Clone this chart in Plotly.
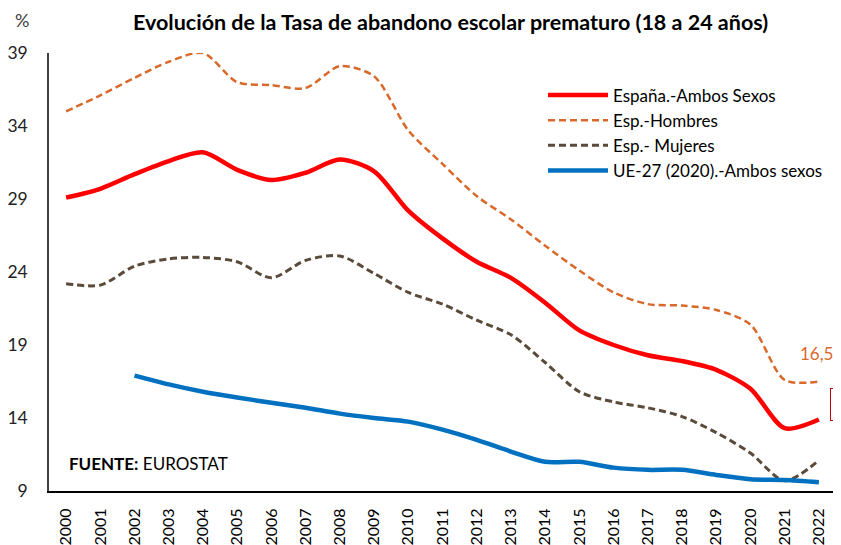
import plotly.graph_objects as go

years = list(range(2000, 2023))
espana = [29.1, 29.7, 30.7, 31.6, 32.2, 31.0, 30.3, 30.8, 31.7, 30.9, 28.2, 26.3,
          24.7, 23.6, 21.9, 20.0, 19.0, 18.3, 17.9, 17.3, 16.0, 13.3, 13.9]
hombres = [35.0, 36.1, 37.3, 38.4, 39.0, 37.0, 36.8, 36.6, 38.1, 37.4, 33.7, 31.4,
           29.2, 27.6, 25.8, 24.1, 22.6, 21.8, 21.7, 21.4, 20.4, 16.6, 16.5]
mujeres = [23.2, 23.1, 24.4, 24.9, 25.0, 24.7, 23.6, 24.8, 25.1, 23.9, 22.6, 21.8,
           20.7, 19.7, 17.8, 15.8, 15.1, 14.7, 14.1, 13.0, 11.6, 9.7, 11.1]
ue_years = list(range(2002, 2023))
ue27 = [16.9, 16.3, 15.8, 15.4, 15.05, 14.7, 14.3, 14.0, 13.75, 13.2, 12.5, 11.7,
        11.0, 11.0, 10.6, 10.45, 10.45, 10.1, 9.8, 9.75, 9.6]
yticks = [9, 14, 19, 24, 29, 34, 39]

FONT = "Lato"
RED = "#FF0000"
ORANGE = "#D9692B"
BROWN = "#594A3A"
BLUE = "#0070C0"

fig = go.Figure()
fig.add_trace(go.Scatter(x=years, y=espana, mode="lines", name="España.-Ambos Sexos",
                         line=dict(color=RED, width=4.5, shape="spline", smoothing=0.8),
                         cliponaxis=False))
fig.add_trace(go.Scatter(x=years, y=hombres, mode="lines", name="Esp.-Hombres",
                         line=dict(color=ORANGE, width=2.5, dash="7px,4px", shape="spline", smoothing=0.8),
                         cliponaxis=False))
fig.add_trace(go.Scatter(x=years, y=mujeres, mode="lines", name="Esp.- Mujeres",
                         line=dict(color=BROWN, width=3, dash="7px,4px", shape="spline", smoothing=0.8),
                         cliponaxis=False))
fig.add_trace(go.Scatter(x=ue_years, y=ue27, mode="lines", name="UE-27 (2020).-Ambos sexos",
                         line=dict(color=BLUE, width=4.5, shape="spline", smoothing=0.8),
                         cliponaxis=False))

annotations = [
    dict(text="<b>Evolución de la Tasa de abandono escolar prematuro (18 a 24 años)</b>",
         xref="paper", yref="paper", x=0.51, y=1.0, yshift=31, xanchor="center", yanchor="middle",
         showarrow=False, font=dict(family=FONT, size=21.5, color="#000000")),
    dict(text="%", xref="paper", yref="paper", x=0, y=1.0, xshift=-27, yshift=33,
         xanchor="center", yanchor="middle", showarrow=False,
         font=dict(family=FONT, size=18, color="#404040")),
    dict(text="<b>FUENTE:</b> EUROSTAT", xref="paper", yref="paper", x=0, y=0,
         xshift=18, yshift=28, xanchor="left", yanchor="middle", showarrow=False,
         font=dict(family=FONT, size=17, color="#000000")),
    dict(text="16,5", xref="x", yref="y", x=years[-1], y=hombres[-1], yshift=28, xshift=-2,
         xanchor="center", yanchor="middle", showarrow=False,
         font=dict(family=FONT, size=17, color=ORANGE)),
    dict(text="13,9", xref="x", yref="y", x=years[-1], y=espana[-1], xshift=11, yshift=15,
         xanchor="left", yanchor="middle", showarrow=False, bordercolor="#C00000",
         borderwidth=1, borderpad=5, bgcolor="white",
         font=dict(family=FONT, size=17.5, color=RED)),
    dict(text="11,1", xref="x", yref="y", x=years[-1], y=mujeres[-1], xshift=18, yshift=15,
         xanchor="left", yanchor="middle", showarrow=False,
         font=dict(family=FONT, size=17.5, color=BROWN)),
    dict(text="9,6", xref="x", yref="y", x=years[-1], y=ue27[-1], xshift=18, yshift=-7,
         xanchor="left", yanchor="middle", showarrow=False, bordercolor=BLUE,
         borderwidth=1, borderpad=5, bgcolor="white",
         font=dict(family=FONT, size=17.5, color=BLUE)),
]

fig.update_layout(
    width=833, height=537,
    margin=dict(l=41, r=5, t=45, b=54),
    paper_bgcolor="white", plot_bgcolor="white",
    font=dict(family=FONT, size=15, color="#000000"),
    showlegend=True,
    legend=dict(x=0.6277, y=0.944, xanchor="left", yanchor="top",
                bgcolor="rgba(0,0,0,0)", itemwidth=60, tracegroupgap=0,
                font=dict(family=FONT, size=17, color="#000000")),
    annotations=annotations,
    xaxis=dict(range=[1999.5, 2022.5], tickmode="array", tickvals=years,
               ticktext=[str(y) for y in years], tickangle=-90, showgrid=False,
               showline=True, linecolor="#000000", linewidth=2, ticks="",
               ticklabelstandoff=9, automargin=False,
               zeroline=False, tickfont=dict(family=FONT, size=16, color="#000000")),
    yaxis=dict(range=[9, 39], tickmode="array", tickvals=yticks,
               ticktext=[str(v) for v in yticks], showgrid=False, showline=True,
               linecolor="#404040", linewidth=1.5, ticks="", zeroline=False,
               ticklabelstandoff=16, automargin=False,
               tickfont=dict(family=FONT, size=17.5, color="#222222")),
)

fig.write_html("out.html")
